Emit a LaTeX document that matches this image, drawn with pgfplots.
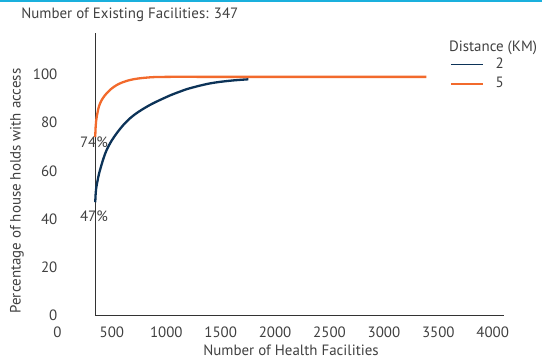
\documentclass[border=0pt]{standalone}
\usepackage{fontspec}
\setmainfont{PT Sans}
\usepackage{pgfplots}
\pgfplotsset{compat=1.18}
\definecolor{txt}{HTML}{404040}
\definecolor{orng}{HTML}{F26A2C}
\definecolor{navy}{HTML}{0C3358}
\definecolor{cyanline}{HTML}{1AB0DD}
\definecolor{axl}{HTML}{333333}
\newcommand{\ff}{\fontsize{15}{18}\selectfont}
\begin{document}
\ff
\begin{tikzpicture}[x=1bp,y=1bp]
\path[use as bounding box] (0,0) rectangle (542,-360);
\fill[cyanline] (0,0) rectangle (542,-2);
\begin{axis}[
  at={(57.5bp,-315.5bp)}, anchor=south west,
  scale only axis, width=446.5bp, height=282.5bp,
  xmin=0, xmax=4104, ymin=0, ymax=117.2,
  clip=false,
  axis line style={draw=none},
  major tick length=0pt,
  xtick={0,500,...,4000}, ytick={0,20,...,100},
  /pgf/number format/assume math mode=true,
  /pgf/number format/1000 sep={},
  tick label style={font=\ff, text=txt},
  xticklabel style={inner sep=0pt, anchor=north, yshift=-11bp},
  yticklabel style={inner sep=0pt, anchor=east},
  title={Number of Existing Facilities: 347},
  title style={at={(axis description cs:0.162,1.0425)}, anchor=center, font=\ff, text=txt, inner sep=0pt},
  xlabel={Number of Health Facilities},
  xlabel style={at={(axis description cs:0.523,-0.124)}, anchor=center, font=\ff, text=txt, inner sep=0pt},
  ylabel={Percentage of house holds with access},
  ylabel style={at={(axis description cs:-0.0907,0.4407)}, anchor=center, font=\ff, text=txt, inner sep=0pt},
  legend style={at={(axis description cs:0.879,0.912)}, anchor=north west, draw=none, fill=none, inner sep=0pt,
    row sep=6.5bp, column sep=12bp,
    nodes={inner sep=0pt, text=txt, font=\ff}},
  legend image code/.code={\draw[#1, line width=1.4bp] (0bp,0bp) -- (32bp,0bp);},
]
\draw[axl, line width=1.1bp] (axis cs:347,0) -- (axis cs:347,117.2);
\draw[axl, line width=1.1bp] (axis cs:347,0) -- (axis cs:4104,0);

\addplot[navy, line width=2.3bp, smooth, tension=0.6] coordinates {
(347,47) (352,51.2) (362,54.5) (391,60.4) (452,68.7) (544,75.6) (666,81.8)
(820,86.6) (1004,90.7) (1126,92.9) (1218,94.3) (1402,96.3) (1585,97.4) (1754,98.0)
};
\addlegendentry{2}
\addplot[orng, line width=2.3bp, smooth, tension=0.6] coordinates {
(347,74) (351,78.5) (362,82.8) (391,88.0) (452,92.2) (544,95.6) (666,97.7)
(820,98.7) (1004,99.0) (1500,99.0) (2500,99.0) (3390,99.0)
};
\addlegendentry{5}

\node[text=txt, font=\ff, inner sep=0pt] at (axis description cs:0.9754,0.946) {Distance (KM)};
\node[text=txt, font=\ff, inner sep=0pt] at (axis cs:335,71.7) {74\%};
\node[text=txt, font=\ff, inner sep=0pt] at (axis cs:335,41) {47\%};
\end{axis}
\end{tikzpicture}
\end{document}
